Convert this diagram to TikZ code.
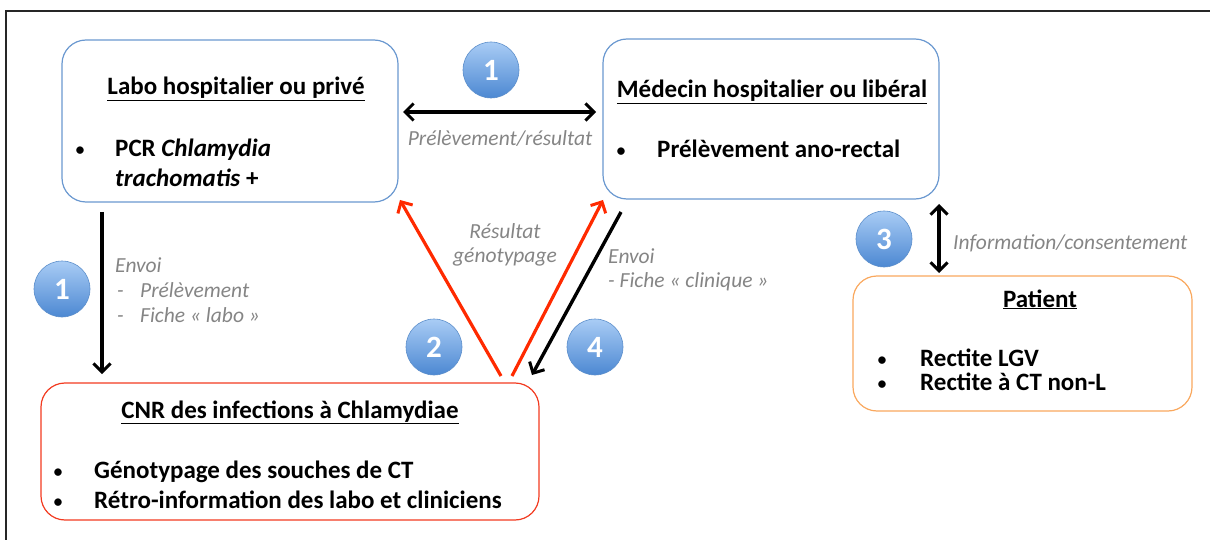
\documentclass[tikz,border=0pt]{standalone}
\usepackage{fontspec}
\setmainfont{Carlito}
\usetikzlibrary{arrows.meta}
\definecolor{boxblue}{HTML}{6A98D0}
\definecolor{boxred}{HTML}{F23A20}
\definecolor{boxorange}{HTML}{F9A85E}
\definecolor{arrred}{HTML}{FF2A00}
\definecolor{lblgray}{HTML}{858585}
\definecolor{circtop}{HTML}{A9CCF5}
\definecolor{circbot}{HTML}{4C88D2}
\definecolor{circedge}{HTML}{5D8FCB}
\tikzset{
  roundbox/.style={draw, line width=1.2pt, rounded corners=24pt},
  titletext/.style={font=\fontsize{25}{28}\selectfont\bfseries, anchor=base, inner sep=0pt},
  itemtext/.style={font=\fontsize{25}{28}\selectfont\bfseries, anchor=base west, inner sep=0pt},
  bullettext/.style={font=\fontsize{21}{24}\selectfont, anchor=base, inner sep=0pt},
  graylabel/.style={font=\fontsize{21.5}{24}\selectfont\itshape, text=lblgray, inner sep=0pt},
  numcircle/.style={circle, minimum size=56pt, inner sep=0pt, draw=circedge, line width=0.6pt,
     top color=circtop, bottom color=circbot, text=white, font=\fontsize{31}{33}\selectfont\bfseries},
  blackarrow/.style={line width=3.4pt, -{Straight Barb[length=8.5pt,width=17pt,line width=3pt]}},
  blackdouble/.style={line width=3.4pt, {Straight Barb[length=8.5pt,width=17pt,line width=3pt]}-{Straight Barb[length=8.5pt,width=17pt,line width=3pt]}},
  redarrow/.style={draw=arrred, line width=3.2pt, -{Straight Barb[length=8.5pt,width=17pt,line width=3pt]}},
}
\begin{document}
\begin{tikzpicture}[x=1pt,y=-1pt]
\useasboundingbox (0,0) rectangle (1210,540);
% frame
\draw[line width=2pt, color=black!85] (6,540) -- (6,11) -- (1210,11);

% boxes
\draw[roundbox, draw=boxblue] (62,40) rectangle (398,202);
\node[draw=none, minimum width=336pt, minimum height=162pt, inner sep=0pt] (labo) at (230,121) {};
\draw[roundbox, draw=boxblue] (603,39) rectangle (939,199);
\node[draw=none, minimum width=336pt, minimum height=160pt, inner sep=0pt] (med) at (771,119) {};
\draw[roundbox, draw=boxorange] (853,276) rectangle (1192,411);
\node[draw=none, minimum width=339pt, minimum height=135pt, inner sep=0pt] (pat) at (1022.5,343.5) {};
\draw[roundbox, draw=boxred] (41,383) rectangle (539,520);
\node[draw=none, minimum width=498pt, minimum height=137pt, inner sep=0pt] (cnr) at (290,451.5) {};

% box texts
\node[titletext] (labotitle) at (236,95) {\underline{Labo hospitalier ou privé}};
\node[bullettext] (labob) at (80,157) {•};
\node[itemtext] (labo1) at (115,157) {PCR \textit{Chlamydia}};
\node[itemtext] (labo2) at (115,187) {\textit{trachomatis} +};

\node[titletext] (medtitle) at (772,98) {\underline{Médecin hospitalier ou libéral}};
\node[bullettext] (medb) at (621,158) {•};
\node[itemtext] (med1) at (657,158) {Prélèvement ano-rectal};

\node[titletext] (pattitle) at (1040,307) {\underline{Patient}};
\node[bullettext] (patb1) at (882,366) {•};
\node[bullettext] (patb2) at (882,390) {•};
\node[itemtext] (pat1) at (920,366) {Rectite LGV};
\node[itemtext] (pat2) at (920,390) {Rectite à CT non-L};

\node[titletext] (cnrtitle) at (290,418) {\underline{CNR des infections à Chlamydiae}};
\node[bullettext] (cnrb1) at (58,478) {•};
\node[bullettext] (cnrb2) at (58,508) {•};
\node[itemtext] (cnr1) at (94,478) {Génotypage des souches de CT};
\node[itemtext] (cnr2) at (94,508) {Rétro-information des labo et cliniciens};

% arrows
\coordinate (a1s) at (403,112);
\coordinate (a1e) at (596,112);
\draw[blackdouble] (a1s) -- (a1e);
\node[graylabel, anchor=base] (lbl1) at (500,146) {Prélèvement/résultat};

\coordinate (a2s) at (102,212);
\coordinate (a2e) at (102,374);
\draw[blackarrow] (a2s) -- (a2e);
\node[graylabel, anchor=base west] (lbl2a) at (115,272) {Envoi};
\node[graylabel, anchor=base west] (lbl2b) at (117,297) {-};
\node[graylabel, anchor=base west] (lbl2c) at (140,297) {Prélèvement};
\node[graylabel, anchor=base west] (lbl2d) at (117,322) {-};
\node[graylabel, anchor=base west] (lbl2e) at (140,322) {Fiche « labo »};

\coordinate (r1s) at (501,376);
\coordinate (r1e) at (400,200);
\draw[redarrow] (r1s) -- (r1e);
\coordinate (r2s) at (512,376);
\coordinate (r2e) at (603,200);
\draw[redarrow] (r2s) -- (r2e);
\node[graylabel, anchor=base] (lbl3a) at (505,238) {Résultat};
\node[graylabel, anchor=base] (lbl3b) at (505,262) {génotypage};

\coordinate (b4s) at (621,212);
\coordinate (b4e) at (532,375);
\draw[blackarrow] (b4s) -- (b4e);
\node[graylabel, anchor=base west] (lbl4a) at (608,263) {Envoi};
\node[graylabel, anchor=base west] (lbl4b) at (608,287) {- Fiche « clinique »};

\coordinate (p3s) at (939,204);
\coordinate (p3e) at (939,273);
\draw[blackdouble] (p3s) -- (p3e);
\node[graylabel, anchor=base west] (lbl5) at (953,250) {Information/consentement};

% numbered circles
\node[numcircle] (c1top) at (491,70) {1};
\node[numcircle] (c1left) at (62,289) {1};
\node[numcircle] (c2) at (434,347) {2};
\node[numcircle] (c4) at (595,347) {4};
\node[numcircle] (c3) at (884,239) {3};
\end{tikzpicture}
\end{document}
